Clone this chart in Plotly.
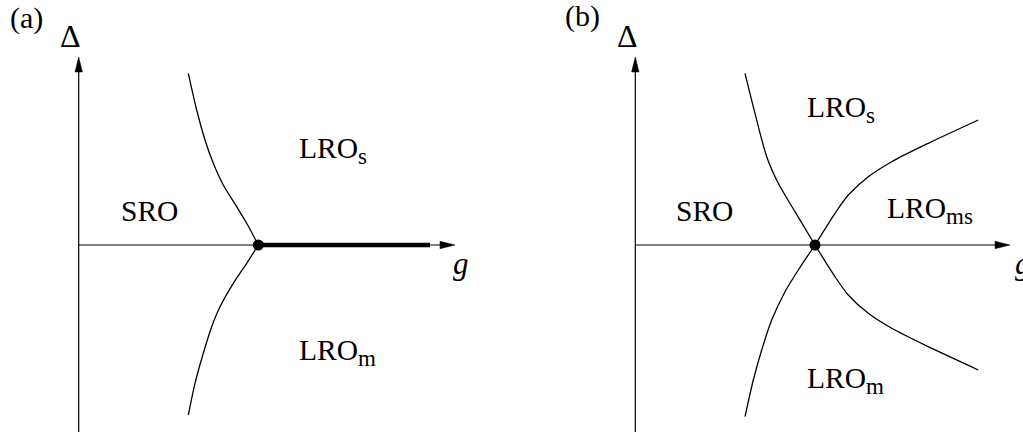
import plotly.graph_objects as go

# ---------------- data (units: 1 = 100 px, origin at axes crossing) ----------------
# panel (a)
a_upper_g = [1.096, 1.18, 1.263, 1.346, 1.446, 1.58, 1.68, 1.796]
a_upper_d = [1.717, 1.35, 1.05, 0.817, 0.60, 0.383, 0.217, 0.0]
a_lower_g = [1.796, 1.68, 1.546, 1.413, 1.33, 1.246, 1.163, 1.096]
a_lower_d = [0.0, -0.183, -0.383, -0.617, -0.817, -1.083, -1.383, -1.70]
a_thick_g = [1.796, 3.513]
a_thick_d = [0.0, 0.0]
a_crit = (1.796, 0.0)

# panel (b)
b_ul_g = [1.097, 1.197, 1.314, 1.43, 1.597, 1.797]
b_ul_d = [1.717, 1.317, 0.883, 0.617, 0.333, 0.0]
b_ll_g = [1.797, 1.63, 1.497, 1.364, 1.264, 1.18, 1.097]
b_ll_d = [0.0, -0.25, -0.467, -0.75, -1.05, -1.35, -1.717]
b_ur_g = [1.797, 1.997, 2.13, 2.33, 2.564, 2.93, 3.43]
b_ur_d = [0.0, 0.317, 0.50, 0.683, 0.833, 1.017, 1.25]
b_lr_g = [1.797, 1.997, 2.13, 2.33, 2.564, 2.93, 3.43]
b_lr_d = [0.0, -0.317, -0.50, -0.683, -0.833, -1.017, -1.25]
b_crit = (1.797, 0.0)

# axes extents
a_g_tip, a_d_tip, d_bottom = 3.763, 1.88, -1.95
b_g_tip, b_d_tip = 3.747, 1.88
ARROW_LEN, ARROW_HALF = 0.15, 0.037

# labels: (main text, subscript, g of left edge, Δ)
a_labels = [("SRO", "", 0.40, 0.34), ("LRO", "s", 2.18, 0.95), ("LRO", "m", 2.18, -1.07)]
b_labels = [("SRO", "", 0.385, 0.34), ("LRO", "s", 1.70, 1.36), ("LRO", "ms", 2.50, 0.35),
            ("LRO", "m", 1.70, -1.35)]

FONT = "Liberation Serif"
BLACK = "black"
LABEL_SIZE = 29.5
SUB_SIZE = 23

fig = go.Figure()


def line(xs, ys, xa, ya, w=1.3):
    fig.add_trace(go.Scatter(x=xs, y=ys, mode="lines", xaxis=xa, yaxis=ya,
                             line=dict(color=BLACK, width=w, shape="spline", smoothing=0.8),
                             hoverinfo="skip", showlegend=False))


def arrow_h(tip, xa, ya):
    fig.add_trace(go.Scatter(x=[tip, tip - ARROW_LEN, tip - ARROW_LEN, tip],
                             y=[0, ARROW_HALF, -ARROW_HALF, 0], mode="lines", fill="toself",
                             fillcolor=BLACK, line=dict(color=BLACK, width=0.5),
                             xaxis=xa, yaxis=ya, hoverinfo="skip", showlegend=False))


def arrow_v(tip, xa, ya):
    fig.add_trace(go.Scatter(x=[0, ARROW_HALF, -ARROW_HALF, 0],
                             y=[tip, tip - ARROW_LEN, tip - ARROW_LEN, tip], mode="lines", fill="toself",
                             fillcolor=BLACK, line=dict(color=BLACK, width=0.5),
                             xaxis=xa, yaxis=ya, hoverinfo="skip", showlegend=False))


# ---- panel (a)
line([0, a_g_tip - ARROW_LEN], [0, 0], "x", "y", 1.2)
line([0, 0], [d_bottom, a_d_tip - ARROW_LEN], "x", "y", 1.2)
arrow_h(a_g_tip, "x", "y")
arrow_v(a_d_tip, "x", "y")
line(a_upper_g, a_upper_d, "x", "y")
line(a_lower_g, a_lower_d, "x", "y")
line(a_thick_g, a_thick_d, "x", "y", 4.5)
fig.add_trace(go.Scatter(x=[a_crit[0]], y=[a_crit[1]], mode="markers", xaxis="x", yaxis="y",
                         marker=dict(color=BLACK, size=11), hoverinfo="skip", showlegend=False))

# ---- panel (b)
line([0, b_g_tip - ARROW_LEN], [0, 0], "x2", "y2", 1.2)
line([0, 0], [d_bottom, b_d_tip - ARROW_LEN], "x2", "y2", 1.2)
arrow_h(b_g_tip, "x2", "y2")
arrow_v(b_d_tip, "x2", "y2")
line(b_ul_g, b_ul_d, "x2", "y2")
line(b_ll_g, b_ll_d, "x2", "y2")
line(b_ur_g, b_ur_d, "x2", "y2")
line(b_lr_g, b_lr_d, "x2", "y2")
fig.add_trace(go.Scatter(x=[b_crit[0]], y=[b_crit[1]], mode="markers", xaxis="x2", yaxis="y2",
                         marker=dict(color=BLACK, size=11), hoverinfo="skip", showlegend=False))


def label_text(main, sub):
    if not sub:
        return main
    return f'{main}<sub><span style="font-size:{SUB_SIZE}px">{sub}</span></sub>'


ann = []
for main, sub, gx, dy in a_labels:
    ann.append(dict(text=label_text(main, sub), x=gx, y=dy, xref="x", yref="y", showarrow=False,
                    xanchor="left", yanchor="middle",
                    font=dict(family=FONT, size=LABEL_SIZE, color=BLACK)))
for main, sub, gx, dy in b_labels:
    ann.append(dict(text=label_text(main, sub), x=gx, y=dy, xref="x2", yref="y2", showarrow=False,
                    xanchor="left", yanchor="middle",
                    font=dict(family=FONT, size=LABEL_SIZE, color=BLACK)))

# panel tags and axis titles
ann += [
    dict(text="(a)", x=-0.522, y=2.27, xref="x", yref="y", showarrow=False,
         font=dict(family=FONT, size=30, color=BLACK)),
    dict(text="(b)", x=-0.528, y=2.29, xref="x2", yref="y2", showarrow=False,
         font=dict(family=FONT, size=30, color=BLACK)),
    dict(text="Δ", x=-0.08, y=2.09, xref="x", yref="y", showarrow=False,
         font=dict(family=FONT, size=32, color=BLACK)),
    dict(text="Δ", x=-0.08, y=2.09, xref="x2", yref="y2", showarrow=False,
         font=dict(family=FONT, size=32, color=BLACK)),
    dict(text="<i>g</i>", x=3.823, y=-0.18, xref="x", yref="y", showarrow=False,
         font=dict(family=FONT, size=31, color=BLACK)),
    dict(text="<i>g</i>", x=3.777, y=-0.18, xref="x2", yref="y2", showarrow=False, xanchor="left",
         font=dict(family=FONT, size=31, color=BLACK)),
]

W, H = 1023, 432
ax_common = dict(visible=False, showgrid=False, zeroline=False, fixedrange=True)
fig.update_layout(
    width=W, height=H, margin=dict(l=0, r=0, t=0, b=0),
    paper_bgcolor="white", plot_bgcolor="white",
    font=dict(family=FONT, color=BLACK, size=28),
    xaxis=dict(domain=[0, 0.5], range=[-0.787, 4.328], **ax_common),
    yaxis=dict(domain=[0, 1], range=[-1.87, 2.45], **ax_common),
    xaxis2=dict(domain=[0.5, 1], range=[-1.238, 3.877], **ax_common),
    yaxis2=dict(domain=[0, 1], range=[-1.87, 2.45], anchor="x2", **ax_common),
    annotations=ann,
    showlegend=False,
)

fig.write_html("out.html", config={"displayModeBar": False},
               post_script="document.body.style.margin='0';document.body.style.overflow='hidden';")
